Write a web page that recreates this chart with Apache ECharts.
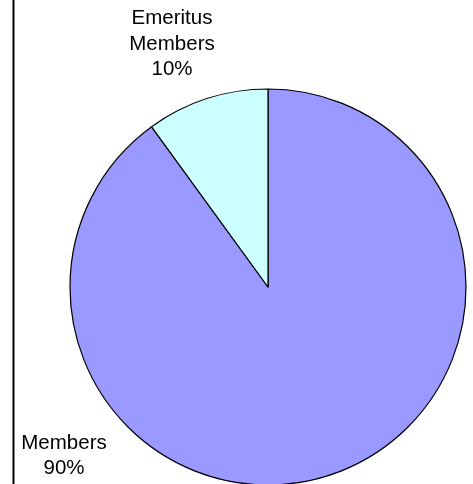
<!DOCTYPE html>
<html>
<head>
<meta charset="utf-8">
<script src="https://cdn.jsdelivr.net/npm/echarts@6/dist/echarts.min.js"></script>
<style>html,body{margin:0;padding:0;background:#fff;}#c{width:473px;height:484px;}</style>
</head>
<body>
<div id="c"></div>
<script>
var categories = ['Members', 'Emeritus Members'];
var values = [90, 10];
var colors = ['#9999FF', '#CCFFFF'];

var chart = echarts.init(document.getElementById('c'), null, {renderer: 'canvas'});
var labelPos = [{x: 64, y: 456}, {x: 172, y: 44}];
chart.setOption({
  animation: false,
  backgroundColor: '#ffffff',
  graphic: [{
    type: 'line',
    shape: {x1: 13.5, y1: 0, x2: 13.5, y2: 484},
    style: {stroke: '#000', lineWidth: 2}
  }],
  series: [{
    type: 'pie',
    center: [268, 287],
    radius: 198,
    startAngle: 90,
    clockwise: true,
    data: categories.map(function (c, i) {
      return {name: c, value: values[i], itemStyle: {color: colors[i]}};
    }),
    itemStyle: {borderColor: '#000', borderWidth: 1.2},
    label: {
      show: true,
      position: 'outside',
      color: '#000',
      fontFamily: 'Liberation Sans, Arial, sans-serif',
      fontSize: 20.5,
      lineHeight: 25.5,
      align: 'center',
      formatter: function (p) { return p.name.replace(' ', '\n') + '\n' + Math.round(p.percent) + '%'; }
    },
    labelLine: {show: false},
    labelLayout: function (p) {
      var lp = labelPos[p.dataIndex];
      return {x: lp.x, y: lp.y, align: 'center', verticalAlign: 'middle'};
    },
    emphasis: {disabled: true}
  }]
});
</script>
</body>
</html>
